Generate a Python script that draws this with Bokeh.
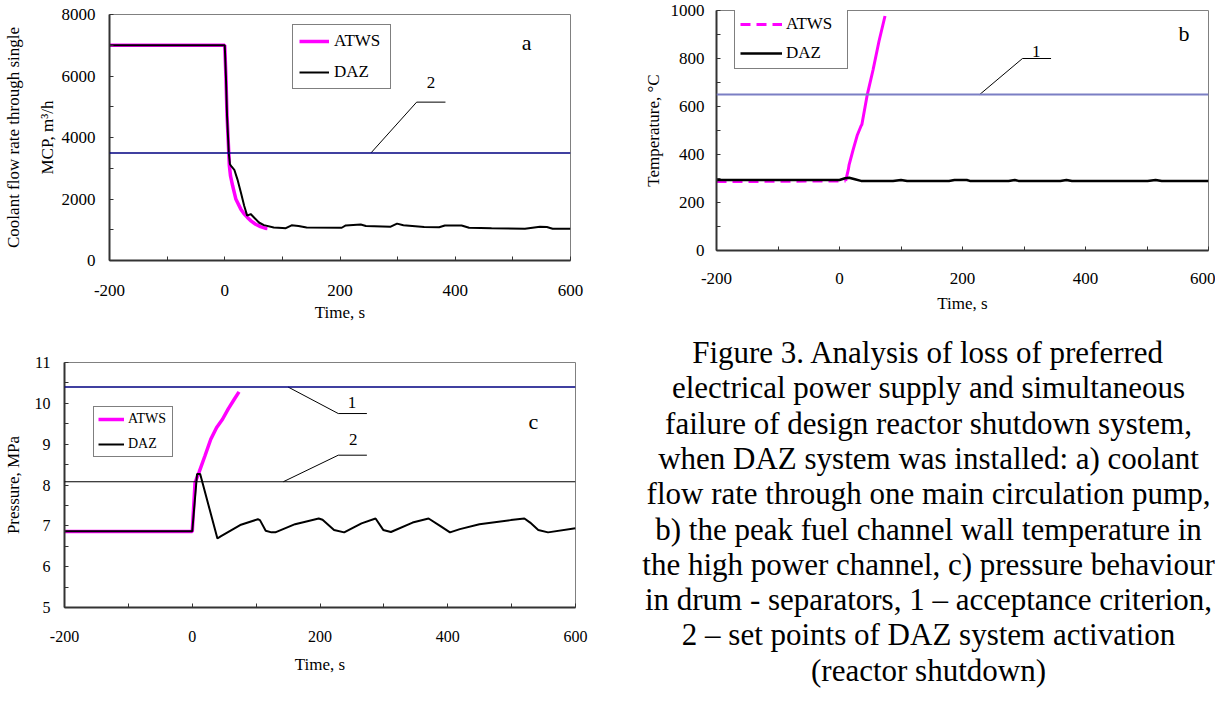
from bokeh.plotting import figure
from bokeh.models import (Range1d, FixedTicker, LinearAxis, Legend, LegendItem, Span,
                          PrintfTickFormatter)
from bokeh.layouts import row, column
from bokeh.embed import file_html
from bokeh.resources import INLINE
from bokeh.core.properties import value

FONT = "Liberation Serif"

# ---------------- data ----------------
x_ticks = [-200, 0, 200, 400, 600]
x_minor = [-100, 100, 300, 500]

# panel a: coolant flow rate through single MCP, m3/h
a_atws_t = [-200, 0, 2, 4, 7, 8, 10, 13.7, 19.4, 27.9, 33.5, 39.3, 46, 53.5, 62, 70, 74]
a_atws_v = [7000, 7000, 6000, 4700, 3500, 3080, 2750, 2430, 1990, 1670, 1520, 1400, 1280, 1180, 1100, 1050, 1040]
a_daz_t = [-200, 0, 2, 4, 7, 9, 12, 16.6, 22, 28, 33.7, 38.9, 45, 50.8, 59.3, 68, 85, 100, 106,
           116, 128, 142, 203, 210, 236, 245, 288, 299, 310, 346, 372, 382, 411, 424, 463, 521,
           547, 559, 569, 600]
a_daz_v = [7000, 7000, 6000, 4700, 3500, 3130, 3050, 2950, 2640, 2210, 1780, 1460, 1510, 1400, 1236,
           1150, 1075, 1060, 1050, 1145, 1125, 1070, 1065, 1140, 1170, 1120, 1100, 1200, 1145, 1090,
           1080, 1140, 1140, 1065, 1045, 1035, 1095, 1090, 1035, 1035]
a_setpoint = 3500
a_y_ticks = [0, 2000, 4000, 6000, 8000]
a_y_minor = [1000, 3000, 5000, 7000]

# panel b: peak fuel channel wall temperature, C
b_atws_t = [-200, 10, 14.4, 15.7, 22, 28.7, 35, 36.4, 44.9, 54.6, 64.3, 74]
b_atws_v = [287, 290, 338, 358, 418, 479, 519, 525, 646, 753, 873, 977]
b_daz_t = [-200, 0, 9, 15.7, 25, 35, 87, 100, 110, 178, 187, 207, 212, 275, 285, 291, 359, 369,
           378, 501, 514, 524, 600]
b_daz_v = [294, 294, 301, 303, 297, 290, 290, 294, 290, 290, 294, 294, 290, 290, 294, 290, 290, 294,
           290, 290, 294, 290, 290]
b_criterion = 650
b_y_ticks = [0, 200, 400, 600, 800, 1000]
b_y_minor = [100, 300, 500, 700, 900]

# panel c: pressure in drum-separators, MPa
c_atws_t = [-200, 0, 4.4, 10.6, 19.8, 29, 38.2, 47.4, 56.6, 65.8, 73.2]
c_atws_v = [6.86, 6.86, 8.06, 8.31, 8.71, 9.12, 9.41, 9.61, 9.87, 10.1, 10.28]
c_daz_t = [-200, 0, 7.5, 12.4, 39.4, 44.4, 75, 102.7, 106, 115, 124, 130, 161, 198, 204, 222,
           237.8, 265, 287, 299, 311, 345, 370, 388, 403.5, 419, 449.6, 498.7, 520, 529, 541.7,
           557, 600]
c_daz_v = [6.87, 6.87, 8.27, 8.27, 6.69, 6.74, 7.02, 7.16, 7.14, 6.88, 6.84, 6.84, 7.04, 7.18, 7.15,
           6.9, 6.84, 7.06, 7.18, 6.9, 6.85, 7.08, 7.18, 7.0, 6.84, 6.92, 7.04, 7.14, 7.18, 7.08,
           6.9, 6.84, 6.94]
c_criterion = 10.4
c_setpoint = 8.08
c_y_ticks = [5, 6, 7, 8, 9, 10, 11]
c_y_minor = [5.5, 6.5, 7.5, 8.5, 9.5, 10.5]

caption_lines = [
    "Figure 3. Analysis of loss of preferred",
    "electrical power supply and simultaneous",
    "failure of design reactor shutdown system,",
    "when DAZ system was installed: a) coolant",
    "flow rate through one main circulation pump,",
    "b) the peak fuel channel wall temperature in",
    "the high power channel, c) pressure behaviour",
    "in drum - separators, 1 \u2013 acceptance criterion,",
    "2 \u2013 set points of DAZ system activation",
    "(reactor shutdown)",
]

# callout leaders (data coordinates) and their labels
a_leader_t, a_leader_v = [253.8, 333, 383], [3500, 5150, 5150]
b_leader_t, b_leader_v = [228, 297.5, 344], [650, 800, 800]
c1_leader_t, c1_leader_v = [150, 228.6, 273.4], [10.4, 9.75, 9.75]
c2_leader_t, c2_leader_v = [142.6, 228.6, 273.4], [8.08, 8.73, 8.73]

MAGENTA = "#ff00ff"
NAVY = "#000080"
AXIS = "#333333"


def make_fig(width, height, left, right, top, bottom, yr):
    p = figure(width=width, height=height, x_range=Range1d(-200, 600), y_range=Range1d(*yr),
               output_backend="svg", toolbar_location=None,
               min_border_left=left, min_border_right=right,
               min_border_top=top, min_border_bottom=bottom)
    p.grid.visible = False
    p.outline_line_color = "#808080"
    p.outline_line_width = 1
    p.background_fill_color = "white"
    p.border_fill_color = "white"
    return p


def style_axis(ax, ticks, minor, label, label_standoff, tick_standoff,
               tick_font="17px", label_font="17px"):
    ax.ticker = FixedTicker(ticks=ticks, minor_ticks=minor)
    ax.formatter = PrintfTickFormatter(format="%d")
    ax.axis_label = label
    ax.axis_label_text_font = FONT
    ax.axis_label_text_font_size = label_font
    ax.axis_label_text_font_style = "normal"
    ax.axis_label_text_color = "black"
    ax.axis_label_standoff = label_standoff
    ax.major_label_text_font = FONT
    ax.major_label_text_font_size = tick_font
    ax.major_label_text_color = "black"
    ax.major_label_standoff = tick_standoff
    ax.axis_line_color = AXIS
    ax.axis_line_width = 2
    ax.major_tick_in = 4
    ax.major_tick_out = 0
    ax.minor_tick_in = 4
    ax.minor_tick_out = 0
    ax.major_tick_line_color = AXIS
    ax.minor_tick_line_color = AXIS
    ax.major_tick_line_width = 1
    ax.minor_tick_line_width = 1


def add_text(p, x, y, txt, size):
    p.text(x=[x], y=[y], text=[txt], text_font=value(FONT), text_font_size=size,
           text_align="center", text_baseline="middle", text_color="black")


def make_legend(items, loc, font, padding, spacing, glyph_w, row_h, label_w, standoff):
    return Legend(items=items, location=loc, orientation="vertical", padding=padding,
                  spacing=spacing, margin=0, glyph_width=glyph_w, glyph_height=row_h,
                  label_height=row_h, label_width=label_w, label_standoff=standoff,
                  label_text_font=FONT, label_text_font_size=font, label_text_color="black",
                  border_line_color="black", border_line_width=1,
                  background_fill_color="white", background_fill_alpha=1.0)


# ---------------- panel a ----------------
pa = make_fig(640, 332, 102, 70, 14, 72, (0, 8000))
style_axis(pa.xaxis[0], x_ticks, x_minor, "Time, s", 4, 24)
style_axis(pa.yaxis[0], a_y_ticks, a_y_minor, "MCP, m\u00b3/h", 2, 14)
ax2 = LinearAxis(ticker=FixedTicker(ticks=[]), axis_label="Coolant flow rate through single",
                 axis_label_text_font=FONT, axis_label_text_font_size="17px",
                 axis_label_text_font_style="normal", axis_label_text_color="black",
                 axis_label_standoff=12, axis_line_color=None, major_tick_line_color=None,
                 minor_tick_line_color=None, major_label_standoff=0)
pa.add_layout(ax2, "left")
pa.add_layout(Span(location=a_setpoint, dimension="width", line_color=NAVY, line_width=1.5))
pa.line(a_leader_t, a_leader_v, line_color="black", line_width=1)
add_text(pa, 358, 5800, "2", "17px")
add_text(pa, 524, 7080, "a", "22px")
ra1 = pa.line(a_atws_t, a_atws_v, line_color=MAGENTA, line_width=3.5)
ra2 = pa.line(a_daz_t, a_daz_v, line_color="black", line_width=2)
pa.add_layout(make_legend([LegendItem(label="ATWS", renderers=[ra1]),
                           LegendItem(label="DAZ", renderers=[ra2])],
                          (183, 171), "17px", 6, 11, 30, 18, 50, 5))

# ---------------- panel b ----------------
pb = make_fig(575, 332, 71, 7, 10, 82, (0, 1000))
style_axis(pb.xaxis[0], x_ticks, x_minor, "Time, s", 7, 22)
style_axis(pb.yaxis[0], b_y_ticks, b_y_minor, "Temperature, \u00b0C", 5, 12)
pb.add_layout(Span(location=b_criterion, dimension="width", line_color="#7b7fc4", line_width=2))
pb.line(b_leader_t, b_leader_v, line_color="black", line_width=1)
add_text(pb, 320, 830, "1", "17px")
add_text(pb, 560, 904, "b", "22px")
rb1 = pb.line(b_atws_t[:2], b_atws_v[:2], line_color=MAGENTA, line_width=3, line_dash="10 6")
pb.line(b_atws_t[1:], b_atws_v[1:], line_color=MAGENTA, line_width=3)
rb2 = pb.line(b_daz_t, b_daz_v, line_color="black", line_width=2.5)
pb.add_layout(make_legend([LegendItem(label="ATWS", renderers=[rb1]),
                           LegendItem(label="DAZ", renderers=[rb2])],
                          (18, 181), "17px", 5, 9, 42, 18, 56, 4))

# ---------------- panel c ----------------
pc = make_fig(640, 356, 60, 65, 30, 81, (5, 11))
style_axis(pc.xaxis[0], x_ticks, x_minor, "Time, s", 10, 23, tick_font="16px")
style_axis(pc.yaxis[0], c_y_ticks, c_y_minor, "Pressure, MPa", 9, 14, tick_font="16px")
pc.add_layout(Span(location=c_criterion, dimension="width", line_color=NAVY, line_width=1.5))
pc.add_layout(Span(location=c_setpoint, dimension="width", line_color="black", line_width=1.2))
pc.line(c1_leader_t, c1_leader_v, line_color="black", line_width=1)
pc.line(c2_leader_t, c2_leader_v, line_color="black", line_width=1)
add_text(pc, 250, 10.02, "1", "17px")
add_text(pc, 252, 9.12, "2", "17px")
add_text(pc, 534, 9.55, "c", "22px")
rc1 = pc.line(c_atws_t, c_atws_v, line_color=MAGENTA, line_width=3.5)
rc2 = pc.line(c_daz_t, c_daz_v, line_color="black", line_width=2)
pc.add_layout(make_legend([LegendItem(label="ATWS", renderers=[rc1]),
                           LegendItem(label="DAZ", renderers=[rc2])],
                          (29, 150), "14px", 4, 9, 26, 16, 40, 4))

# ---------------- caption ----------------
CAP_W, CAP_H = 575, 356
pcap = figure(width=CAP_W, height=CAP_H, x_range=Range1d(0, CAP_W), y_range=Range1d(CAP_H, 0),
              output_backend="svg", toolbar_location=None, min_border=0,
              x_axis_location=None, y_axis_location=None)
pcap.grid.visible = False
pcap.outline_line_color = None
line_step = 35.3
pcap.text(x=[288] * len(caption_lines),
          y=[20 + i * line_step for i in range(len(caption_lines))],
          text=caption_lines, text_font=value(FONT), text_font_size="31px",
          text_align="center", text_baseline="middle", text_color="black")

layout = column(row(column(pa), column(pb)), row(column(pc), column(pcap)))
open("out.html", "w").write(file_html(layout, INLINE))
